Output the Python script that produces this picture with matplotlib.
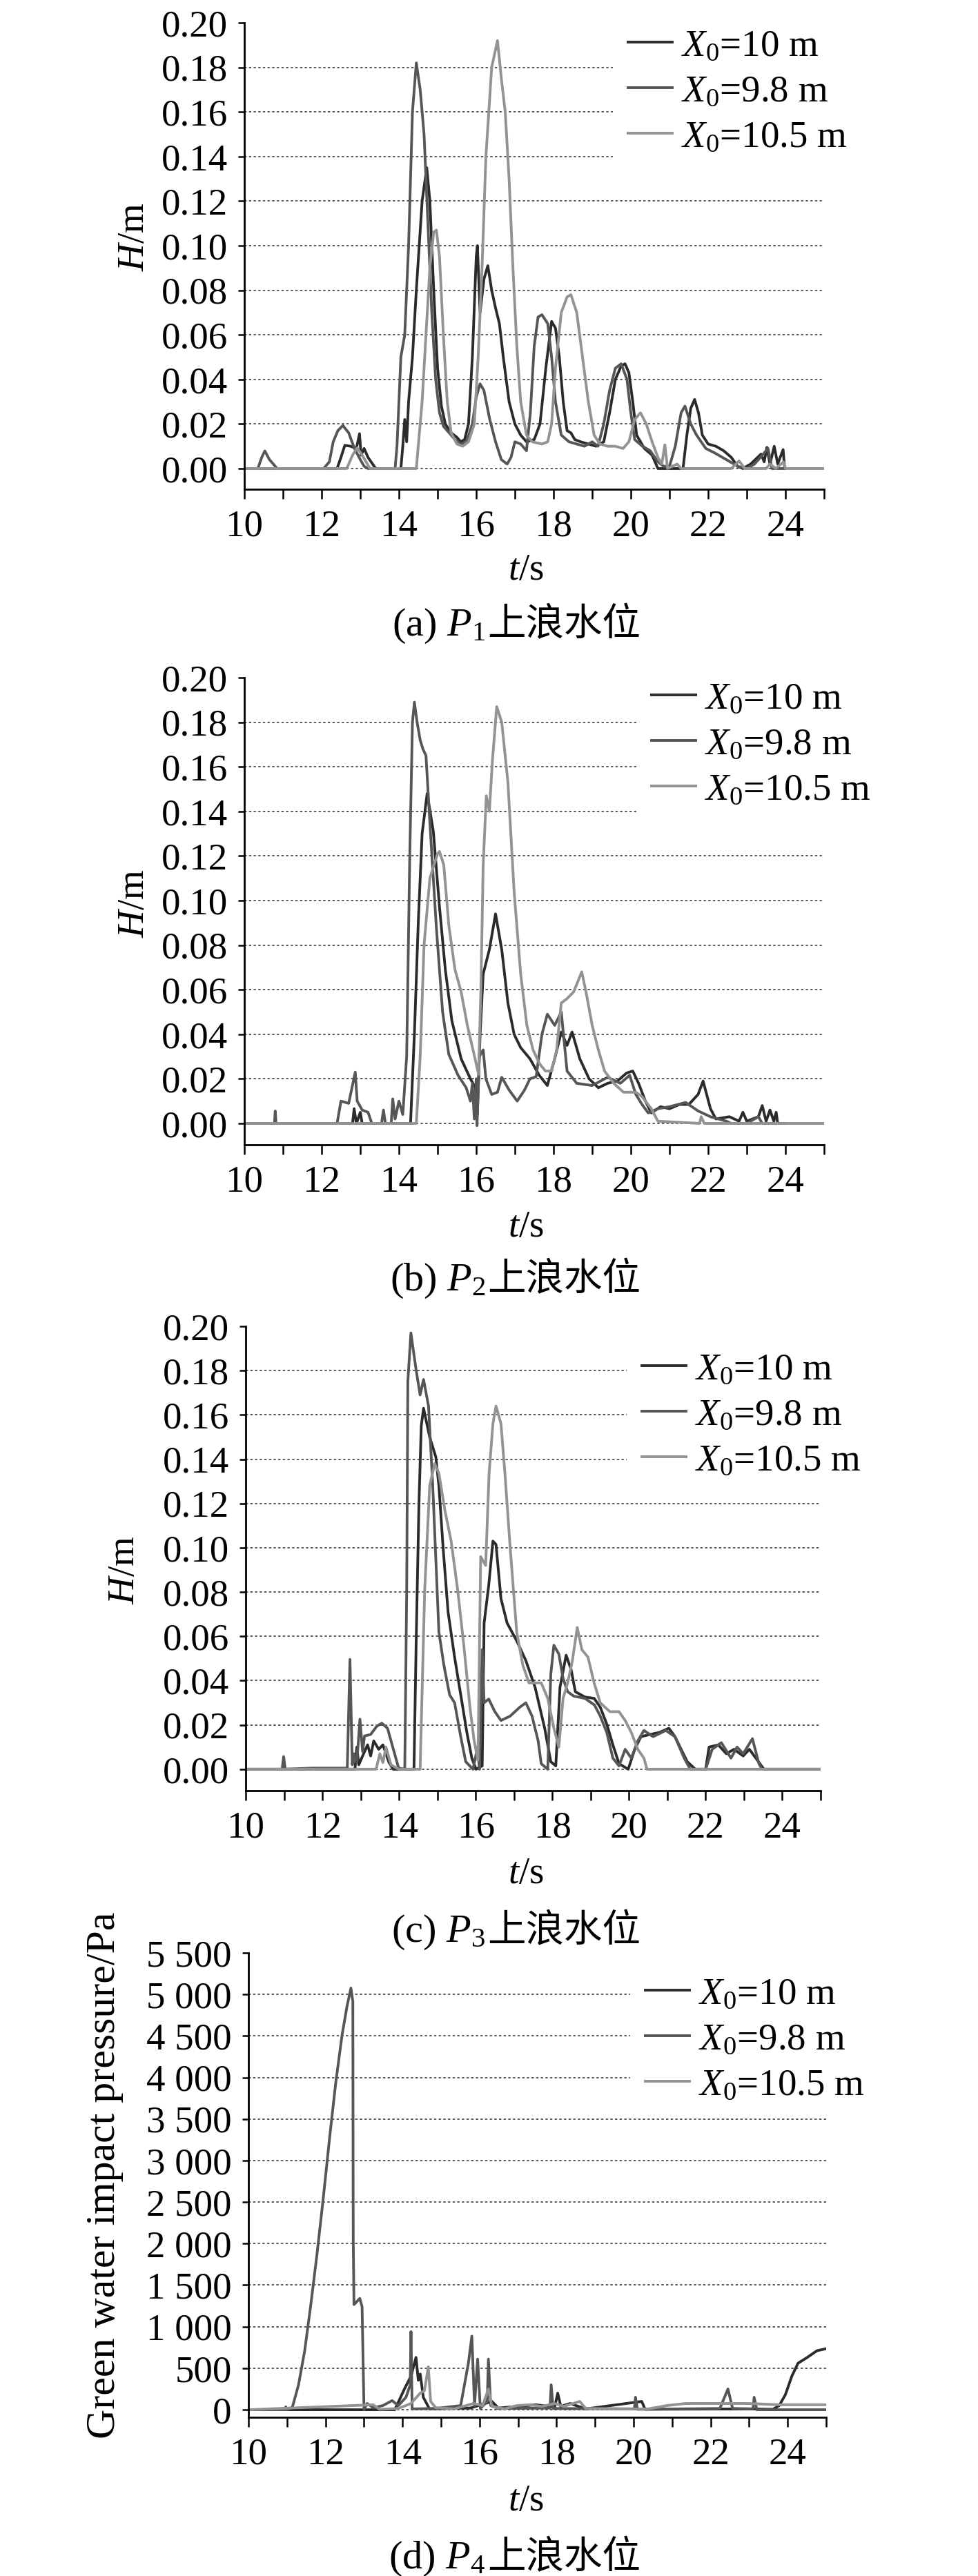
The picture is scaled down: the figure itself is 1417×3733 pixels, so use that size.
import numpy as np
import matplotlib
matplotlib.use('Agg')
import matplotlib.pyplot as plt
from matplotlib.ticker import MultipleLocator, FuncFormatter

plt.rcParams['font.family'] = ['Liberation Serif', 'Noto Sans CJK SC']
plt.rcParams['mathtext.fontset'] = 'custom'
plt.rcParams['mathtext.rm'] = 'Liberation Serif'
plt.rcParams['mathtext.it'] = 'Liberation Serif:italic'

W, H = 1417, 3733
FS = 39.5

# ---- data: (t [s], value) ----
P1_X10 = [(10.0, 0), (12.4, 0), (12.5, 0.005), (12.6, 0.0104), (12.75, 0.010), (12.9, 0.009), (12.98, 0.0156),
          (13.02, 0.006), (13.1, 0.009), (13.2, 0.005), (13.4, 0), (14.05, 0), (14.1, 0.01), (14.15, 0.022),
          (14.2, 0.012), (14.25, 0.03), (14.35, 0.05), (14.45, 0.08), (14.6, 0.12), (14.72, 0.135), (14.8, 0.12),
          (14.9, 0.08), (15.0, 0.045), (15.1, 0.028), (15.2, 0.02), (15.35, 0.016), (15.5, 0.014), (15.6, 0.012),
          (15.7, 0.013), (15.8, 0.02), (15.9, 0.05), (16.0, 0.095), (16.03, 0.10), (16.1, 0.07), (16.2, 0.085),
          (16.3, 0.091), (16.4, 0.08), (16.5, 0.072), (16.6, 0.065), (16.7, 0.05), (16.85, 0.03), (17.0, 0.02),
          (17.15, 0.015), (17.3, 0.012), (17.5, 0.013), (17.65, 0.02), (17.8, 0.045), (17.95, 0.066),
          (18.05, 0.063), (18.15, 0.05), (18.25, 0.03), (18.35, 0.017), (18.45, 0.016), (18.55, 0.013),
          (18.7, 0.012), (18.9, 0.011), (19.1, 0.010), (19.3, 0.012), (19.45, 0.025), (19.6, 0.04), (19.75, 0.046),
          (19.85, 0.047), (19.95, 0.043), (20.05, 0.03), (20.15, 0.015), (20.35, 0.009), (20.55, 0.006), (20.7, 0),
          (21.35, 0), (21.45, 0.015), (21.55, 0.027), (21.65, 0.031), (21.75, 0.025), (21.85, 0.015), (22.0, 0.011),
          (22.2, 0.010), (22.4, 0.008), (22.6, 0.005), (22.76, 0.001), (22.9, 0), (23.1, 0.002), (23.37, 0.0065),
          (23.45, 0.003), (23.52, 0.0095), (23.6, 0.002), (23.71, 0.010), (23.8, 0.002), (23.94, 0.0085),
          (23.98, 0), (24.0, 0)]
P1_X98 = [(10.0, 0), (10.35, 0), (10.45, 0.005), (10.53, 0.0079), (10.65, 0.004), (10.85, 0), (12.05, 0),
          (12.2, 0.003), (12.3, 0.012), (12.42, 0.017), (12.55, 0.0193), (12.7, 0.016), (12.85, 0.009),
          (13.0, 0.004), (13.1, 0.001), (13.2, 0), (13.9, 0), (13.95, 0.01), (14.0, 0.03), (14.05, 0.05),
          (14.15, 0.06), (14.25, 0.10), (14.35, 0.16), (14.45, 0.182), (14.55, 0.17), (14.65, 0.15), (14.75, 0.11),
          (14.85, 0.07), (14.95, 0.04), (15.05, 0.025), (15.15, 0.019), (15.3, 0.016), (15.45, 0.013),
          (15.6, 0.011), (15.75, 0.012), (15.9, 0.02), (16.0, 0.032), (16.1, 0.038), (16.2, 0.035), (16.35, 0.022),
          (16.5, 0.012), (16.65, 0.004), (16.8, 0.002), (16.9, 0.005), (17.0, 0.012), (17.15, 0.011),
          (17.3, 0.008), (17.4, 0.025), (17.5, 0.055), (17.6, 0.068), (17.7, 0.069), (17.85, 0.065), (17.95, 0.05),
          (18.05, 0.03), (18.2, 0.015), (18.4, 0.012), (18.6, 0.011), (18.8, 0.010), (19.0, 0.012), (19.15, 0.010),
          (19.3, 0.02), (19.45, 0.035), (19.6, 0.045), (19.75, 0.047), (19.9, 0.04), (20.0, 0.025), (20.1, 0.013),
          (20.3, 0.010), (20.5, 0.008), (20.7, 0.003), (20.85, 0.001), (21.0, 0.001), (21.15, 0.01), (21.3, 0.025),
          (21.4, 0.028), (21.55, 0.02), (21.7, 0.015), (21.94, 0.009), (22.17, 0.007), (22.47, 0.004),
          (22.77, 0.001), (23.0, 0), (23.2, 0.002), (23.4, 0.006), (23.55, 0.009), (23.65, 0), (24.0, 0)]
P1_X105 = [(10.0, 0), (12.65, 0), (12.8, 0.006), (12.92, 0.0093), (13.05, 0.006), (13.25, 0), (14.45, 0),
           (14.5, 0.01), (14.6, 0.03), (14.7, 0.06), (14.8, 0.09), (14.9, 0.106), (14.97, 0.107), (15.05, 0.095),
           (15.15, 0.06), (15.25, 0.03), (15.35, 0.016), (15.5, 0.011), (15.65, 0.010), (15.8, 0.012),
           (15.95, 0.02), (16.05, 0.05), (16.15, 0.09), (16.25, 0.14), (16.4, 0.18), (16.55, 0.192),
           (16.65, 0.175), (16.75, 0.16), (16.85, 0.13), (16.95, 0.09), (17.05, 0.055), (17.15, 0.03),
           (17.3, 0.015), (17.45, 0.012), (17.7, 0.011), (17.85, 0.012), (17.95, 0.02), (18.05, 0.045),
           (18.2, 0.07), (18.35, 0.077), (18.45, 0.078), (18.6, 0.07), (18.75, 0.05), (18.9, 0.03), (19.05, 0.015),
           (19.2, 0.011), (19.4, 0.010), (19.6, 0.010), (19.8, 0.009), (19.95, 0.012), (20.1, 0.022),
           (20.25, 0.025), (20.4, 0.02), (20.55, 0.012), (20.7, 0.005), (20.8, 0.002), (20.88, 0.0106),
           (20.95, 0), (21.2, 0.002), (21.3, 0), (22.6, 0), (22.8, 0.0034), (22.95, 0), (23.5, 0), (23.6, 0.002),
           (23.75, 0), (23.95, 0.003), (24.0, 0), (25.0, 0)]

P2_X10 = [(10.0, 0), (12.8, 0), (12.84, 0.0066), (12.9, 0), (13.0, 0.005), (13.05, 0), (14.3, 0), (14.4, 0.04),
          (14.5, 0.09), (14.6, 0.13), (14.73, 0.148), (14.89, 0.131), (15.05, 0.097), (15.2, 0.069),
          (15.37, 0.046), (15.61, 0.029), (15.85, 0.02), (15.98, 0.016), (16.03, 0.004), (16.1, 0.04),
          (16.18, 0.067), (16.34, 0.078), (16.5, 0.094), (16.66, 0.078), (16.82, 0.054), (16.98, 0.040),
          (17.15, 0.034), (17.39, 0.029), (17.63, 0.0216), (17.84, 0.017), (18.03, 0.029), (18.2, 0.041),
          (18.35, 0.035), (18.48, 0.041), (18.68, 0.029), (18.92, 0.02), (19.16, 0.016), (19.4, 0.018),
          (19.65, 0.019), (19.89, 0.0226), (20.05, 0.0235), (20.2, 0.018), (20.37, 0.0103), (20.53, 0.0047),
          (20.77, 0.0075), (21.0, 0.0066), (21.26, 0.0085), (21.5, 0.0085), (21.74, 0.013), (21.87, 0.019),
          (22.06, 0.0066), (22.2, 0.002), (22.55, 0.003), (22.8, 0.001), (22.9, 0.005), (23.0, 0.001),
          (23.3, 0.003), (23.4, 0.008), (23.5, 0.001), (23.6, 0.006), (23.7, 0.001), (23.76, 0.005), (23.8, 0)]
P2_X98 = [(10.0, 0), (10.78, 0), (10.8, 0.0056), (10.82, 0), (12.4, 0), (12.5, 0.01), (12.7, 0.009),
          (12.87, 0.023), (12.92, 0.01), (13.05, 0.006), (13.2, 0.005), (13.3, 0), (13.55, 0), (13.6, 0.006),
          (13.65, 0), (13.8, 0), (13.84, 0.011), (13.9, 0.002), (14.0, 0.01), (14.1, 0.004), (14.2, 0.03),
          (14.28, 0.12), (14.35, 0.18), (14.4, 0.189), (14.47, 0.18), (14.55, 0.172), (14.62, 0.168),
          (14.7, 0.165), (14.8, 0.135), (14.97, 0.0875), (15.13, 0.05), (15.29, 0.031), (15.53, 0.0216),
          (15.74, 0.016), (15.85, 0.010), (15.9, 0.018), (15.95, 0.002), (16.0, 0.02), (16.02, -0.001),
          (16.08, 0.03), (16.18, 0.033), (16.25, 0.02), (16.4, 0.013), (16.55, 0.014), (16.66, 0.0207),
          (16.85, 0.015), (17.06, 0.010), (17.25, 0.015), (17.39, 0.02), (17.55, 0.021), (17.7, 0.040),
          (17.84, 0.049), (18.03, 0.044), (18.2, 0.05), (18.35, 0.0235), (18.6, 0.018), (19.0, 0.017),
          (19.4, 0.0207), (19.73, 0.018), (19.97, 0.0216), (20.13, 0.013), (20.29, 0.0085), (20.45, 0.0047),
          (20.7, 0.0066), (21.0, 0.0075), (21.42, 0.0094), (21.74, 0.0056), (22.06, 0.003), (22.47, 0.001),
          (22.6, 0), (23.0, 0), (23.3, 0.003), (23.4, 0), (24.0, 0)]
P2_X105 = [(10.0, 0), (14.45, 0), (14.55, 0.03), (14.65, 0.08), (14.8, 0.11), (15.0, 0.121), (15.05, 0.122),
           (15.16, 0.116), (15.29, 0.089), (15.45, 0.069), (15.61, 0.059), (15.77, 0.044), (15.97, 0.029),
           (16.06, 0.022), (16.12, 0.06), (16.18, 0.116), (16.26, 0.147), (16.34, 0.14), (16.42, 0.163),
           (16.53, 0.187), (16.66, 0.18), (16.82, 0.153), (16.98, 0.104), (17.15, 0.067), (17.31, 0.044),
           (17.47, 0.033), (17.63, 0.027), (17.79, 0.0235), (17.95, 0.0235), (18.08, 0.033), (18.2, 0.054),
           (18.35, 0.056), (18.52, 0.059), (18.73, 0.068), (18.84, 0.059), (19.0, 0.044), (19.16, 0.033),
           (19.32, 0.0235), (19.56, 0.018), (19.81, 0.014), (20.13, 0.014), (20.29, 0.012), (20.53, 0.0066),
           (20.7, 0.001), (21.78, 0), (21.82, 0.003), (21.9, 0), (25.0, 0)]

P3_X10 = [(10.0, 0), (12.85, 0), (12.9, 0.01), (12.95, 0.002), (13.05, 0.006), (13.18, 0.011), (13.26, 0.006),
          (13.34, 0.0128), (13.47, 0.009), (13.58, 0.011), (13.74, 0.003), (13.85, 0), (14.39, 0), (14.45, 0.06),
          (14.52, 0.12), (14.58, 0.155), (14.64, 0.163), (14.8, 0.15), (14.96, 0.141), (15.04, 0.128),
          (15.15, 0.10), (15.28, 0.071), (15.45, 0.0506), (15.61, 0.0336), (15.77, 0.0166), (15.9, 0.005),
          (16.01, 0), (16.17, 0.0015), (16.22, 0.066), (16.34, 0.083), (16.45, 0.103), (16.53, 0.1015),
          (16.66, 0.077), (16.82, 0.066), (17.07, 0.058), (17.31, 0.049), (17.55, 0.037), (17.8, 0.0185),
          (17.96, 0.0034), (18.09, 0.0015), (18.2, 0.037), (18.36, 0.0515), (18.49, 0.045), (18.6, 0.035),
          (18.85, 0.0326), (19.09, 0.032), (19.25, 0.028), (19.42, 0.0204), (19.58, 0.011), (19.74, 0.0025),
          (19.98, 0), (20.15, 0.009), (20.31, 0.0147), (20.55, 0.0157), (20.79, 0.0166), (21.04, 0.0185),
          (21.2, 0.0147), (21.36, 0.009), (21.52, 0.0034), (21.73, 0), (22.0, 0), (22.09, 0.010), (22.33, 0.011),
          (22.54, 0.007), (22.74, 0.009), (22.98, 0.006), (23.14, 0.009), (23.31, 0.005), (23.52, 0), (25.0, 0)]
P3_X98 = [(10.0, 0), (10.95, 0), (10.99, 0.0057), (11.03, 0), (11.72, 0.0005), (12.65, 0.0005), (12.72, 0.0496),
          (12.78, 0.002), (12.82, 0.007), (12.9, 0.003), (12.98, 0.0226), (13.05, 0.008), (13.1, 0.015),
          (13.26, 0.0157), (13.42, 0.0194), (13.55, 0.0208), (13.7, 0.0185), (13.82, 0.011), (13.99, 0.0005),
          (14.15, 0), (14.2, 0.08), (14.23, 0.175), (14.31, 0.197), (14.44, 0.181), (14.55, 0.169),
          (14.64, 0.176), (14.77, 0.164), (14.88, 0.128), (15.04, 0.062), (15.17, 0.047), (15.32, 0.0336),
          (15.45, 0.03), (15.61, 0.0147), (15.74, 0.0034), (15.93, 0), (16.05, 0.01), (16.1, 0.0), (16.17, 0.054),
          (16.22, 0.03), (16.34, 0.0317), (16.5, 0.026), (16.66, 0.022), (16.9, 0.024), (17.15, 0.028),
          (17.31, 0.030), (17.47, 0.024), (17.63, 0.0128), (17.71, 0.0025), (17.88, 0), (17.96, 0.043),
          (18.04, 0.056), (18.17, 0.052), (18.28, 0.041), (18.4, 0.035), (18.56, 0.033), (18.85, 0.032),
          (19.1, 0.029), (19.25, 0.024), (19.42, 0.0166), (19.58, 0.005), (19.74, 0.0015), (19.9, 0.009),
          (20.06, 0.005), (20.23, 0.0128), (20.39, 0.0175), (20.63, 0.0147), (20.96, 0.0175), (21.2, 0.0147),
          (21.44, 0.005), (21.6, 0), (22.0, 0), (22.17, 0.009), (22.41, 0.012), (22.66, 0.005), (22.82, 0.010),
          (22.98, 0.007), (23.22, 0.0138), (23.39, 0.0025), (23.47, 0), (25.0, 0)]
P3_X105 = [(10.0, 0), (13.4, 0), (13.5, 0.007), (13.58, 0.003), (13.66, 0.010), (13.79, 0.002), (13.99, 0),
           (14.55, 0), (14.67, 0.081), (14.8, 0.128), (14.93, 0.138), (15.04, 0.1336), (15.2, 0.1166),
           (15.36, 0.103), (15.53, 0.081), (15.69, 0.056), (15.85, 0.028), (15.96, 0.0128), (16.06, 0.004),
           (16.13, 0.096), (16.26, 0.092), (16.35, 0.1336), (16.45, 0.156), (16.53, 0.164), (16.66, 0.156),
           (16.77, 0.132), (16.9, 0.10), (17.07, 0.062), (17.23, 0.047), (17.39, 0.039), (17.71, 0.039),
           (17.88, 0.032), (18.04, 0.0185), (18.17, 0.010), (18.28, 0.032), (18.4, 0.039), (18.52, 0.0487),
           (18.65, 0.064), (18.77, 0.054), (18.93, 0.0506), (19.09, 0.039), (19.25, 0.030), (19.5, 0.026),
           (19.74, 0.026), (19.9, 0.022), (20.06, 0.0166), (20.23, 0.009), (20.39, 0.005), (20.47, 0), (25.0, 0)]

P4_X10 = [(10.0, 0), (13.8, 0), (14.05, 250), (14.22, 405), (14.35, 630), (14.41, 355), (14.46, 430),
          (14.54, 150), (14.7, 10), (15.76, 20), (16.32, 100), (16.49, 20), (17.46, 60), (17.95, 30),
          (18.03, 200), (18.11, 40), (18.35, 75), (18.76, 10), (20.21, 100), (20.3, 5), (22.97, 10), (23.62, 5),
          (23.78, 50), (23.94, 180), (24.11, 405), (24.27, 560), (24.51, 630), (24.76, 710), (25.0, 735)]
P4_X98 = [(10.0, 0), (10.95, 0), (10.97, 35), (11.0, 0), (11.14, 30), (11.3, 300), (11.46, 710), (11.62, 1270),
          (11.78, 1875), (11.95, 2580), (12.11, 3290), (12.27, 3950), (12.43, 4510), (12.56, 4860),
          (12.66, 5076), (12.71, 4915), (12.72, 2077), (12.74, 1266), (12.79, 1290), (12.89, 1340),
          (12.95, 1240), (13.0, 0), (13.08, 75), (13.24, 25), (13.49, 50), (13.73, 110), (13.89, 50),
          (14.09, 150), (14.2, 300), (14.22, 940), (14.25, 10), (14.86, 15), (15.51, 50), (15.71, 560),
          (15.8, 886), (15.87, 50), (15.95, 610), (16.02, 15), (16.2, 100), (16.23, 610), (16.29, 50),
          (16.49, 15), (17.83, 20), (17.86, 300), (17.91, 15), (20.02, 10), (20.05, 150), (20.1, 5),
          (22.24, 15), (22.45, 250), (22.57, 15), (23.1, 10), (23.13, 150), (23.2, 0), (25.0, 0)]
P4_X105 = [(10.0, 0), (13.24, 60), (13.4, 5), (13.89, 15), (14.22, 75), (14.46, 200), (14.57, 230),
           (14.67, 517), (14.73, 100), (14.86, 25), (15.35, 10), (15.84, 75), (16.08, 50), (16.23, 250),
           (16.32, 40), (16.65, 10), (16.97, 50), (17.3, 60), (17.62, 40), (17.95, 75), (18.19, 40),
           (18.6, 100), (18.76, 15), (19.73, 10), (20.38, 10), (20.86, 50), (21.35, 75), (22.16, 75),
           (22.97, 75), (23.78, 60), (25.0, 60)]

LABELS = ['$X_\\mathrm{0}$=10 m', '$X_\\mathrm{0}$=9.8 m', '$X_\\mathrm{0}$=10.5 m']
COLORS = ['#2b2b2b', '#565656', '#939393']
CAP_HEADS = ['(a) $P_\\mathrm{1}$', '(b) $P_\\mathrm{2}$', '(c) $P_\\mathrm{3}$', '(d) $P_\\mathrm{4}$']
CAP_TAIL = '上浪水位'
H_TICKS = [0.00, 0.02, 0.04, 0.06, 0.08, 0.10, 0.12, 0.14, 0.16, 0.18, 0.20]
P_TICKS = [0, 500, 1000, 1500, 2000, 2500, 3000, 3500, 4000, 4500, 5000, 5500]

# layout in pixels: axes rect (left, right, top, bottom), label / caption / legend positions
PANELS = [
    dict(data=[P1_X10, P1_X98, P1_X105], rect=(354, 1194, 33, 709), ymin=-0.0093, ylab='$H$/m', ylab_fs=FS,
         ylab_xy=(195, 343), xlab_base=840, cap_base=921, leg=(888, 20)),
    dict(data=[P2_X10, P2_X98, P2_X105], rect=(354, 1194, 982, 1659), ymin=-0.0096, ylab='$H$/m', ylab_fs=FS,
         ylab_xy=(195, 1309), xlab_base=1792, cap_base=1870, leg=(922, 966)),
    dict(data=[P3_X10, P3_X98, P3_X105], rect=(356, 1189, 1922, 2595), ymin=-0.0097, ylab='$H$/m', ylab_fs=FS,
         ylab_xy=(181, 2275), xlab_base=2729, cap_base=2814, leg=(908, 1938)),
    dict(data=[P4_X10, P4_X98, P4_X105], rect=(360, 1197, 2830, 3503), ymin=-91,
         ylab='Green water impact pressure/Pa', ylab_fs=43, ylab_xy=(152, 3152), xlab_base=3638, cap_base=3722,
         leg=(913, 2843)),
]

fig = plt.figure(figsize=(W / 100, H / 100), dpi=100)


def fx(px):
    return px / W


def fy(py):
    return 1 - py / H


for i, p in enumerate(PANELS):
    l, r, t, b = p['rect']
    ax = fig.add_axes([fx(l), fy(b), fx(r - l), (b - t) / H])
    lines = []
    for series, col in zip(p['data'], COLORS):
        ts, vs = zip(*series)
        ln, = ax.plot(ts, vs, color=col, lw=2.8, solid_joinstyle='round')
        lines.append(ln)

    ax.set_xlim(10, 25)
    ax.xaxis.set_major_locator(MultipleLocator(1))
    ax.xaxis.set_major_formatter(FuncFormatter(
        lambda v, pos: f"{int(round(v))}" if round(v) % 2 == 0 and v < 24.5 else ""))
    if i < 3:
        ax.set_ylim(p['ymin'], 0.20)
        ax.set_yticks(H_TICKS)
        ax.yaxis.set_major_formatter(FuncFormatter(lambda v, pos: f"{v:.2f}"))
    else:
        ax.set_ylim(p['ymin'], 5500)
        ax.set_yticks(P_TICKS)
        ax.yaxis.set_major_formatter(FuncFormatter(lambda v, pos: f"{int(v):,}".replace(",", " ")))

    for s in ['top', 'right']:
        ax.spines[s].set_visible(False)
    for s in ['left', 'bottom']:
        ax.spines[s].set_linewidth(2.0)
    ax.tick_params(axis='x', direction='out', length=10, width=1.8, labelsize=FS, pad=11)
    ax.tick_params(axis='y', direction='out', length=6.5, width=1.8, labelsize=FS, pad=11)

    ax.grid(axis='y', color='#2a2a2a', lw=1.1, linestyle=(0, (2.2, 2.2)))
    ax.get_ygridlines()[-1].set_visible(False)
    ax.set_axisbelow(True)

    lx, ly = p['leg']
    ax.legend(lines, LABELS, loc='upper left', bbox_to_anchor=(fx(lx), fy(ly)),
              bbox_transform=fig.transFigure, frameon=True, fancybox=False, framealpha=1,
              facecolor='white', edgecolor='none', fontsize=FS, borderpad=0.4,
              handlelength=1.16, handletextpad=0.25, labelspacing=0.28, borderaxespad=0)

    fig.text(fx(p['ylab_xy'][0]), fy(p['ylab_xy'][1]), p['ylab'], rotation=90,
             ha='center', va='center', fontsize=p['ylab_fs'])
    fig.text(fx(762), fy(p['xlab_base']), '$t$/s', ha='center', va='baseline', fontsize=FS)
    # caption: latin part + CJK part
    fig.text(fx(703), fy(p['cap_base']), CAP_HEADS[i], ha='right', va='baseline', fontsize=42)
    fig.text(fx(706), fy(p['cap_base']), CAP_TAIL, ha='left', va='baseline', fontsize=40,
             family=['Noto Sans CJK SC', 'DejaVu Sans'])

fig.savefig('out.png', dpi=100, facecolor='white')
